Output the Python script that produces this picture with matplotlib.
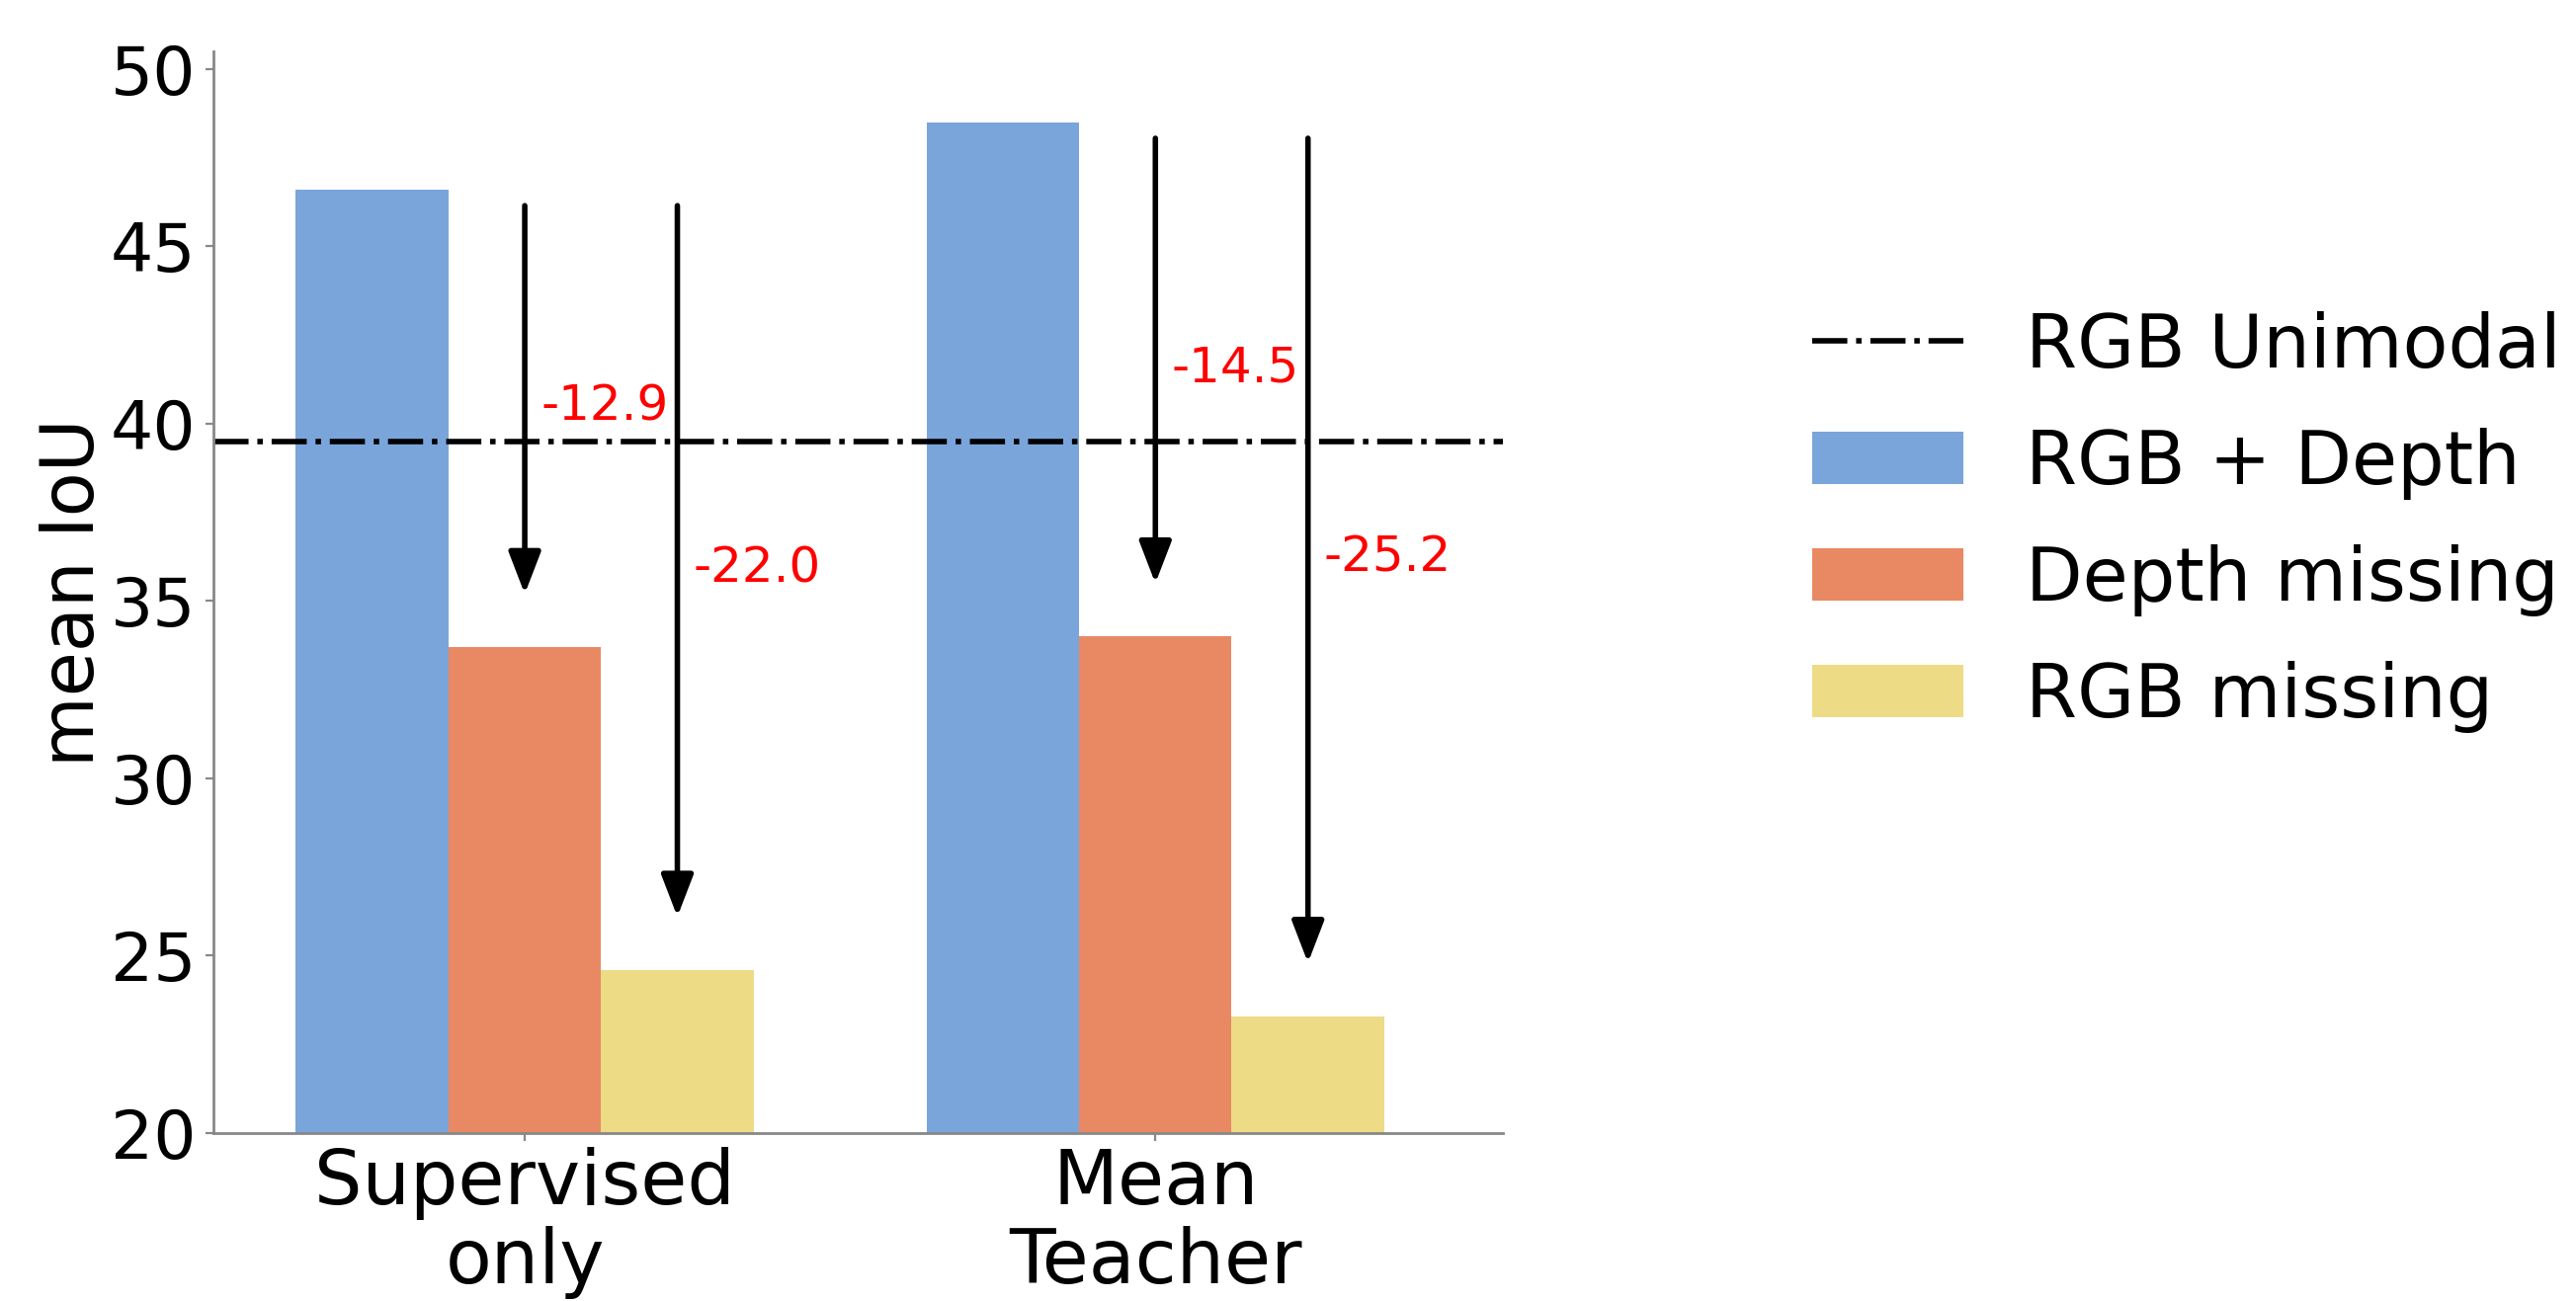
import numpy as np
import matplotlib
matplotlib.use("Agg")
import matplotlib.pyplot as plt

# values
methods = ["Supervised\nonly", "Mean\nTeacher"]
rgb_depth = [46.6, 48.5]
depth_missing = [33.7, 34.0]
rgb_missing = [24.6, 23.3]
rgb_unimodal = 39.5

series_labels = ["RGB + Depth", "Depth missing", "RGB missing"]
colors = ["#7AA5DA", "#E88963", "#EDDB86"]

fig = plt.figure(figsize=(13.035, 6.585), dpi=200)
ax = fig.add_axes([0.0829, 0.1291, 0.5005, 0.8314])

x = np.arange(len(methods))
w = 0.242
handles = []
for i, (vals, lab, col) in enumerate(zip([rgb_depth, depth_missing, rgb_missing], series_labels, colors)):
    b = ax.bar(x + (i - 1) * w, vals, w, color=col, label=lab)
    handles.append(b)

line = ax.axhline(rgb_unimodal, color="black", linestyle="-.", lw=2.0, label="RGB Unimodal")

# drop arrows from the RGB + Depth level down to each missing-modality bar
for j in range(len(methods)):
    top = rgb_depth[j] - 0.45
    for k, vals in ((0, depth_missing), (1, rgb_missing)):
        xa = x[j] + k * w
        tip = vals[j] + 1.5
        ax.annotate("", xy=(xa, tip), xytext=(xa, top),
                    arrowprops=dict(arrowstyle="-|>,head_length=1.3,head_width=0.5",
                                    color="black", lw=2.0, mutation_scale=10,
                                    shrinkA=0, shrinkB=0))
        ax.text(xa + 0.025, (top + tip) / 2 - 0.2, f"{vals[j] - rgb_depth[j]:.1f}",
                color="red", fontsize=18, ha="left", va="center")

ax.set_xlim(-0.4935, 1.551)
ax.set_ylim(20, 50.5)
ax.set_yticks([20, 25, 30, 35, 40, 45, 50])
ax.set_xticks(x)
ax.set_xticklabels(methods, fontsize=27.5, linespacing=1.1)
ax.tick_params(axis="y", labelsize=24.5, length=3, color="#888888")
ax.tick_params(axis="x", length=3, pad=2, color="#888888")
ax.set_ylabel("mean IoU", fontsize=26.5, labelpad=0)

for s in ["top", "right"]:
    ax.spines[s].set_visible(False)
for s in ["left", "bottom"]:
    ax.spines[s].set_color("#888888")
    ax.spines[s].set_linewidth(1.0)

fig.legend([line] + handles, ["RGB Unimodal"] + series_labels,
           loc="center left", bbox_to_anchor=(0.7035, 0.599),
           frameon=False, fontsize=27, borderpad=0, borderaxespad=0,
           handlelength=2.04, handleheight=0.7, handletextpad=0.84,
           labelspacing=0.6)

fig.savefig("out.png", dpi=200)
